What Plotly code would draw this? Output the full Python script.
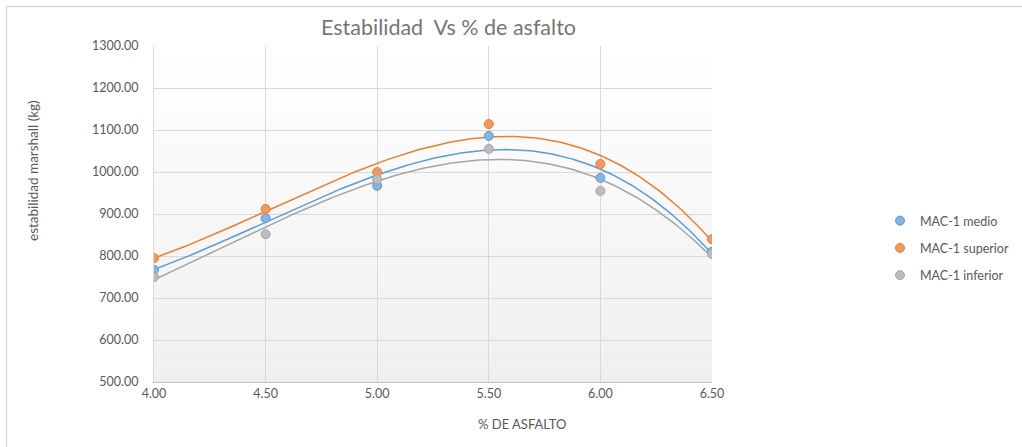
import numpy as np
import plotly.graph_objects as go

asfalto = [4.0, 4.5, 5.0, 5.5, 6.0, 6.5]
mac_medio = [767, 890, 967, 1086, 986, 810]
mac_superior = [795, 912, 1000, 1114, 1019, 840]
mac_inferior = [750, 852, 983, 1055, 955, 805]
series_names = ["MAC-1 medio", "MAC-1 superior", "MAC-1 inferior"]
y_ticks = [500, 600, 700, 800, 900, 1000, 1100, 1200, 1300]
x_ticks = [4.0, 4.5, 5.0, 5.5, 6.0, 6.5]

line_colors = ["#5B9BD5", "#ED7D31", "#A5A5A5"]
fill_colors = ["#86B3E0", "#F09A62", "#BDBDBD"]

W, H = 1022, 447
L, R, T, B = 154, 712, 46, 382

fig = go.Figure()
xs = np.linspace(min(asfalto), max(asfalto), 200)
for i, (name, vals) in enumerate(zip(series_names, [mac_medio, mac_superior, mac_inferior])):
    coef = np.polyfit(asfalto, vals, 3)
    fig.add_trace(go.Scatter(x=xs, y=np.polyval(coef, xs), mode="lines",
                             line=dict(color=line_colors[i], width=1.5),
                             showlegend=False, hoverinfo="skip"))
for i, (name, vals) in enumerate(zip(series_names, [mac_medio, mac_superior, mac_inferior])):
    fig.add_trace(go.Scatter(x=asfalto, y=vals, mode="markers", name=name,
                             legendgroup=name,
                             marker=dict(size=9, color=fill_colors[i],
                                         line=dict(color=line_colors[i], width=1))))

# gradient background of plot area
shapes = []
n = 40
for k in range(n):
    t = (k + 0.5) / n
    g = int(round(255 - (255 - 239) * (1 - t)))
    shapes.append(dict(type="rect", xref="x domain", yref="y domain",
                       x0=0, x1=1, y0=k / n, y1=(k + 1) / n,
                       fillcolor=f"rgb({g},{g},{g})", line=dict(width=0), layer="below"))
# outer chart border (top and left)
px = lambda p: (p - L) / (R - L)
py = lambda p: (B - p) / (B - T)
shapes.append(dict(type="line", xref="paper", yref="paper", x0=px(6.5), x1=px(1030),
                   y0=py(6.5), y1=py(6.5), line=dict(color="#D9D9D9", width=1.5)))
shapes.append(dict(type="line", xref="paper", yref="paper", x0=px(6.5), x1=px(6.5),
                   y0=py(6.5), y1=py(460), line=dict(color="#D9D9D9", width=1.5)))

font_family = "Lato, Open Sans, sans-serif"
fig.update_layout(
    width=W, height=H,
    margin=dict(l=L, r=W - R, t=T, b=H - B, autoexpand=False),
    paper_bgcolor="white", plot_bgcolor="rgba(0,0,0,0)",
    font=dict(family=font_family, color="#595959", size=12),
    shapes=shapes,
    showlegend=True,
    legend=dict(xref="container", yref="container", x=880 / W, y=1 - 248 / H,
                xanchor="left", yanchor="middle",
                font=dict(size=12.5, color="#595959"), tracegroupgap=8,
                bgcolor="rgba(0,0,0,0)", itemwidth=30),
    annotations=[
        dict(text="Estabilidad  Vs % de asfalto", x=px(448), y=py(27), xref="paper", yref="paper",
             showarrow=False, font=dict(size=21.5, color="#767676"), xanchor="center", yanchor="middle"),
        dict(text="% DE ASFALTO", x=px(522), y=py(424), xref="paper", yref="paper",
             showarrow=False, font=dict(size=13, color="#595959"), xanchor="center", yanchor="middle"),
        dict(text="estabilidad marshall (kg)", x=px(33), y=py(171), xref="paper", yref="paper",
             showarrow=False, textangle=-90, font=dict(size=13.5, color="#595959"),
             xanchor="center", yanchor="middle"),
    ],
)
fig.update_xaxes(range=[4.0, 6.5], tickvals=x_ticks, ticktext=[f"{v:.2f}" for v in x_ticks],
                 showgrid=True, gridcolor="#D9D9D9", gridwidth=1, zeroline=False,
                 showline=True, linecolor="#BFBFBF", linewidth=1, ticks="",
                 tickfont=dict(size=12.5, color="#595959"))
fig.update_yaxes(range=[500, 1300], tickvals=y_ticks, ticktext=[f"{v:.2f}" for v in y_ticks],
                 showgrid=True, gridcolor="#D9D9D9", gridwidth=1, zeroline=False,
                 showline=True, linecolor="#D9D9D9", linewidth=1, ticks="",
                 ticklabelstandoff=12,
                 tickfont=dict(size=12.5, color="#595959"))

fig.write_html("out.html", config={"displayModeBar": False},
               post_script="document.body.style.margin='0';")
